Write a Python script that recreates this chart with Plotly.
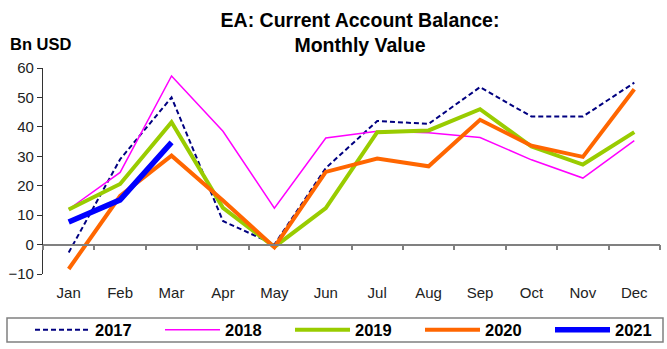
import plotly.graph_objects as go

months = ["Jan", "Feb", "Mar", "Apr", "May", "Jun", "Jul", "Aug", "Sep", "Oct", "Nov", "Dec"]

y2017 = [-2.7, 29, 50, 8, 0, 26, 42, 41, 53.5, 43.5, 43.5, 55]
y2018 = [12, 24.5, 57.3, 38.5, 12.4, 36.2, 38.5, 38, 36.4, 28.8, 22.6, 35.3]
y2019 = [11.9, 20.6, 41.6, 12.5, -0.8, 12.4, 38.2, 38.8, 46, 33.3, 27.2, 38.2]
y2020 = [-8.3, 16.5, 30.2, 15, -0.9, 24.7, 29.2, 26.6, 42.4, 33.6, 29.8, 52.8]
y2021 = [7.7, 15.2, 34.7]

series = [
    ("2017", y2017, dict(color="#000080", width=2, dash="5px,3px")),
    ("2018", y2018, dict(color="#FF00FF", width=1.5)),
    ("2019", y2019, dict(color="#99CC00", width=4)),
    ("2020", y2020, dict(color="#FF6600", width=4)),
    ("2021", y2021, dict(color="#0000FF", width=5.5)),
]

FONT = "Liberation Sans, Arial, sans-serif"

# plot area in pixels
L, R, T, B = 43, 7, 68, 75
W, H = 667, 349
PW, PH = W - L - R, H - T - B


def px_x(px):
    return (px - L) / PW


def px_y(py):
    return (H - B - py) / PH


fig = go.Figure()
for name, vals, line in series:
    fig.add_trace(go.Scatter(x=months[:len(vals)], y=vals, name=name, mode="lines",
                             line=line, xaxis="x", yaxis="y"))

# helper trace so the zero-crossing axis (ticks at month boundaries) renders
fig.add_trace(go.Scatter(x=months, y=[None] * len(months), xaxis="x2", yaxis="y",
                         showlegend=False, hoverinfo="skip"))

ymin, ymax = -10, 60
zero_pos = (0 - ymin) / (ymax - ymin)

fig.update_layout(
    width=W, height=H,
    margin=dict(l=L, r=R, t=T, b=B, autoexpand=False),
    paper_bgcolor="white", plot_bgcolor="white",
    font=dict(family=FONT, color="#000000"),
    title=dict(text="EA: Current Account Balance:<br>Monthly Value",
               x=360 / W, xanchor="center", y=1 - 27 / H, yanchor="middle",
               font=dict(size=19.5, family=FONT, color="#000000", weight="bold")),
    xaxis=dict(type="category", categoryorder="array", categoryarray=months,
               range=[-0.5, 11.5], showline=False, ticks="", showgrid=False,
               zeroline=False, tickfont=dict(size=15, color="#222222"),
               ticklabelstandoff=8),
    xaxis2=dict(type="category", categoryorder="array", categoryarray=months,
                range=[-0.5, 11.5], overlaying="x", anchor="free", position=zero_pos,
                showline=True, linecolor="#808080", linewidth=1.5,
                ticks="outside", ticklen=5, tickcolor="#808080", tickwidth=1.5,
                tickson="boundaries", showticklabels=False, showgrid=False,
                zeroline=False),
    yaxis=dict(range=[ymin, ymax], dtick=10, showline=True, linecolor="#333333",
               linewidth=1.2, ticks="outside", ticklen=5, tickcolor="#333333",
               showgrid=False, zeroline=False,
               tickfont=dict(size=15, color="#222222")),
    showlegend=True,
    legend=dict(orientation="h", xref="paper", yref="paper",
                x=px_x(30), xanchor="left", y=px_y(330), yanchor="middle",
                font=dict(size=16.5, family=FONT, color="#000000", weight="bold"),
                itemwidth=55, entrywidth=60, entrywidthmode="pixels",
                bgcolor="rgba(0,0,0,0)", traceorder="normal"),
    annotations=[dict(text="Bn USD", xref="paper", yref="paper",
                      x=px_x(8), y=px_y(44), xanchor="left",
                      yanchor="middle", showarrow=False,
                      font=dict(size=16.5, family=FONT, color="#000000", weight="bold"))],
    shapes=[dict(type="rect", xref="paper", yref="paper",
                 x0=px_x(7), x1=px_x(663), y0=px_y(342), y1=px_y(318),
                 line=dict(color="#808080", width=1.5), fillcolor="rgba(0,0,0,0)")],
)

fig.write_html("out.html")
